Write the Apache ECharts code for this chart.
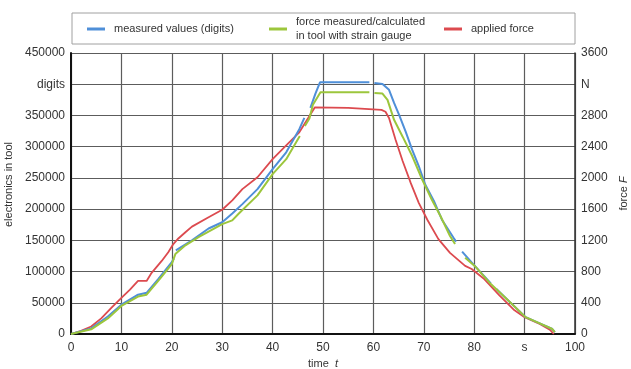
<!DOCTYPE html>
<html>
<head>
<meta charset="utf-8">
<script src="https://cdn.jsdelivr.net/npm/echarts@6/dist/echarts.min.js"></script>
<style>
  html, body { margin: 0; padding: 0; background: #fff; }
  #chart { width: 631px; height: 369px; }
</style>
</head>
<body>
<div id="chart"></div>
<script>
// time in s, null value = gap in the trace
const measuredT = [0, 4, 7.3, 10, 13.3, 15, 17.3, 20, 20.4, 20.6, 20.8, 24, 27.3, 30, 32, 34, 37, 40, 42.7, 45.3, 46.3, 46.9, 47.5, 48.5, 49.4, 55, 59.2, 59.7, 60.2, 61.8, 63.1, 64.1, 65.1, 66.4, 67.7, 69, 70.3, 72, 73.6, 75.9, 76.4, 77, 77.6, 79.8, 83.3, 83.9, 84.4, 86.6, 90.2, 93, 95.5, 96];
const measuredDigits = [0, 9000, 28000, 47000, 63000, 66000, 88000, 115000, 121000, null, 134000, 150000, 169000, 179000, 193000, 208000, 232000, 264000, 291000, 328000, 346000, null, 362000, 385000, 403000, 403000, 403000, null, 402000, 400500, 391000, 370000, 351000, 324000, 295000, 269000, 239000, 213000, 183000, 154000, 148000, null, 132000, 112000, 81000, null, 72000, 55000, 27000, 17000, 8000, 3000];

const toolT = [0, 4, 7.3, 10, 13.3, 15, 17.3, 20, 20.7, 22.7, 25.3, 30, 32, 33.3, 37, 40, 42.7, 44, 45.4, 45.9, 46.4, 47.3, 48, 49.5, 59.2, 59.7, 60.2, 61.8, 62.8, 64.1, 65.8, 67.7, 69.7, 71.6, 73.3, 75.2, 76.2, 77.2, 78.2, 80.1, 83.3, 86.6, 90.2, 93, 95.5, 96];
const toolForceN = [0, 60, 200, 360, 480, 504, 680, 896, 1024, 1136, 1240, 1408, 1456, 1544, 1776, 2048, 2240, 2384, 2536, null, 2664, 2760, 2936, 3096, 3096, null, 3088, 3080, 3000, 2744, 2528, 2280, 1976, 1720, 1512, 1256, 1152, null, 976, 872, 640, 440, 216, 136, 64, 24];

const appliedT = [0, 2, 4, 6, 8, 10, 11.7, 13.3, 15, 16, 18, 19.3, 20.3, 21.3, 22.7, 24, 27.3, 30, 32, 34, 37, 40, 42.7, 45.3, 47, 48.4, 55, 61.6, 62.4, 63.1, 64.4, 65.8, 67.4, 69, 70.7, 72.9, 75.2, 78.2, 79.5, 82, 85, 88, 90, 93, 95, 95.8];
const appliedForceN = [0, 40, 96, 200, 336, 464, 568, 680, 680, 784, 936, 1048, 1152, 1224, 1304, 1376, 1496, 1592, 1712, 1856, 2008, 2240, 2416, 2584, 2760, 2904, 2896, 2872, 2848, 2768, 2488, 2216, 1936, 1680, 1464, 1216, 1040, 872, 832, 704, 496, 304, 216, 128, 56, 0];

const legendNames = ['measured values (digits)', 'force measured/calculated\nin tool with strain gauge', 'applied force'];

const pairs = (ts, vs) => ts.map((t, i) => [t, vs[i] === null ? '-' : vs[i]]);

const font = 'Liberation Sans, Arial, sans-serif';
const txt = '#333333';
const gridColor = '#5c5c5c';

const chart = echarts.init(document.getElementById('chart'));

const legendBase = {
  orient: 'horizontal',
  padding: 0,
  itemWidth: 18,
  itemHeight: 3,
  icon: 'rect',
  selectedMode: false,
  textStyle: { fontFamily: font, fontSize: 11, color: txt, lineHeight: 14, padding: [0, 0, 0, 4] },
};

chart.setOption({
  animation: false,
  graphic: [
    {
      type: 'rect',
      shape: { x: 72, y: 13, width: 503, height: 31 },
      style: { fill: '#fff', stroke: '#a0a0a0', lineWidth: 1 },
      z: -1,
    },
  ],
  legend: [
    Object.assign({}, legendBase, { left: 87, top: 22, data: [legendNames[0]] }),
    Object.assign({}, legendBase, { left: 269, top: 15, data: [legendNames[1]] }),
    Object.assign({}, legendBase, { left: 444, top: 22, data: [legendNames[2]] }),
  ],
  grid: { left: 71, right: 56, top: 53, bottom: 35, outerBoundsMode: 'none', containLabel: false },
  xAxis: {
    type: 'value',
    min: 0,
    max: 100,
    interval: 10,
    name: '{n|time  }{i|t}',
    nameLocation: 'middle',
    nameGap: 24,
    nameTextStyle: {
      rich: {
        n: { fontFamily: font, fontSize: 11, color: txt },
        i: { fontFamily: font, fontSize: 11, color: txt, fontStyle: 'italic' },
      },
    },
    axisLine: { lineStyle: { color: '#111', width: 2 } },
    axisTick: { show: false },
    axisLabel: {
      fontFamily: font,
      fontSize: 12,
      color: txt,
      margin: 8,
      formatter: (v) => (v === 90 ? 's' : String(v)),
    },
    splitLine: { show: true, lineStyle: { color: gridColor, width: 1.2 } },
  },
  yAxis: [
    {
      type: 'value',
      min: 0,
      max: 450000,
      interval: 50000,
      name: 'electronics in tool',
      nameLocation: 'middle',
      nameGap: 51,
      nameRotate: 90,
      nameTextStyle: { fontFamily: font, fontSize: 11, color: txt, padding: [0, 0, 0, 18] },
      axisLine: { show: true, lineStyle: { color: '#111', width: 2 } },
      axisTick: { show: false },
      axisLabel: {
        fontFamily: font,
        fontSize: 12,
        color: txt,
        margin: 6,
        formatter: (v) => (v === 400000 ? 'digits' : String(v)),
      },
      splitLine: { show: true, lineStyle: { color: gridColor, width: 1.2 } },
    },
    {
      type: 'value',
      position: 'right',
      min: 0,
      max: 3600,
      interval: 400,
      name: '{n|force }{i|F}',
      nameLocation: 'middle',
      nameGap: 42,
      nameRotate: 90,
      nameTextStyle: {
        rich: {
          n: { fontFamily: font, fontSize: 11, color: txt },
          i: { fontFamily: font, fontSize: 11, color: txt, fontStyle: 'italic' },
        },
      },
      axisLine: { show: true, lineStyle: { color: '#333', width: 1.5 } },
      axisTick: { show: false },
      axisLabel: {
        fontFamily: font,
        fontSize: 12,
        color: txt,
        margin: 6,
        formatter: (v) => (v === 3200 ? 'N' : String(v)),
      },
      splitLine: { show: false },
    },
  ],
  series: [
    {
      name: legendNames[0],
      type: 'line',
      yAxisIndex: 0,
      data: pairs(measuredT, measuredDigits),
      showSymbol: false,
      connectNulls: false,
      itemStyle: { color: '#4f8fd8' },
      lineStyle: { width: 2 },
      z: 3,
    },
    {
      name: legendNames[1],
      type: 'line',
      yAxisIndex: 1,
      data: pairs(toolT, toolForceN),
      showSymbol: false,
      connectNulls: false,
      itemStyle: { color: '#9cc63c' },
      lineStyle: { width: 2 },
      z: 4,
    },
    {
      name: legendNames[2],
      type: 'line',
      yAxisIndex: 1,
      data: pairs(appliedT, appliedForceN),
      showSymbol: false,
      itemStyle: { color: '#dc4a4f' },
      lineStyle: { width: 1.8 },
      z: 2,
    },
  ],
});
</script>
</body>
</html>
